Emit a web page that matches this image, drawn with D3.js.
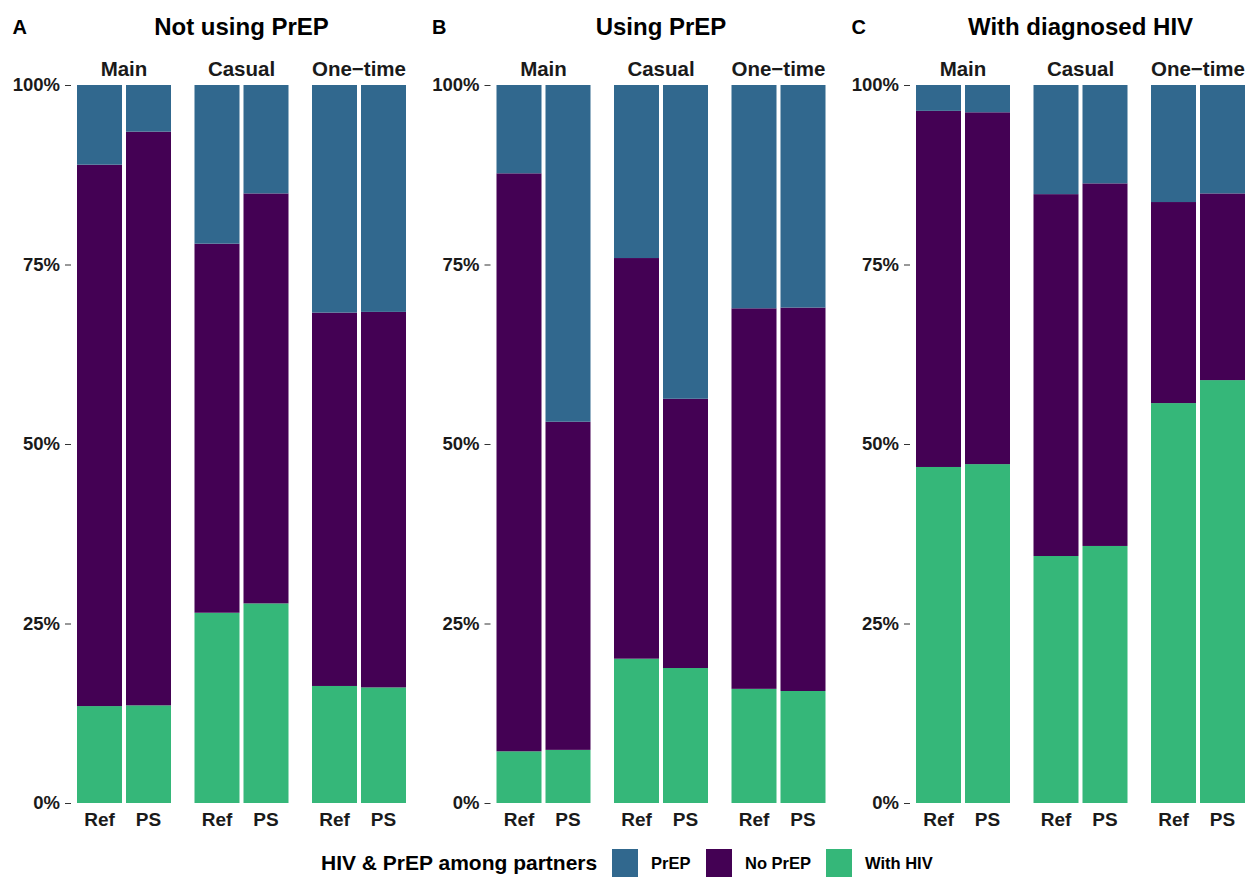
<!DOCTYPE html>
<html>
<head>
<meta charset="utf-8">
<script src="https://cdn.jsdelivr.net/npm/d3@7"></script>
<style>
  html, body { margin: 0; padding: 0; background: #fff; }
  svg { display: block; font-family: "Liberation Sans", Arial, sans-serif; }
</style>
</head>
<body>
<svg id="chart" width="1248" height="877"></svg>
<script>
// ---- Data ----
const panels = ["Not using PrEP", "Using PrEP", "With diagnosed HIV"];
const panelTags = ["A", "B", "C"];
const partnerTypes = ["Main", "Casual", "One\u2212time"];
const sources = ["Ref", "PS"];
const seriesNames = ["With HIV", "No PrEP", "PrEP"];
const legendOrder = ["PrEP", "No PrEP", "With HIV"];
const yTicks = [0, 0.25, 0.5, 0.75, 1];
const yTickLabels = ["0%", "25%", "50%", "75%", "100%"];

// values (%) ordered Main Ref, Main PS, Casual Ref, Casual PS, One-time Ref, One-time PS
const withHIV_A = [13.5, 13.6, 26.5, 27.8, 16.3, 16.1];
const noPrEP_A  = [75.4, 79.9, 51.4, 57.1, 52.0, 52.3];
const prep_A    = [11.1,  6.5, 22.1, 15.1, 31.7, 31.6];

const withHIV_B = [ 7.2,  7.4, 20.1, 18.8, 15.9, 15.6];
const noPrEP_B  = [80.5, 45.7, 55.8, 37.5, 53.0, 53.4];
const prep_B    = [12.3, 46.9, 24.1, 43.7, 31.1, 31.0];

const withHIV_C = [46.8, 47.2, 34.4, 35.8, 55.7, 58.9];
const noPrEP_C  = [49.6, 49.0, 50.4, 50.5, 28.0, 26.0];
const prep_C    = [ 3.6,  3.8, 15.2, 13.7, 16.3, 15.1];

const panelSeries = [
  [withHIV_A, noPrEP_A, prep_A],
  [withHIV_B, noPrEP_B, prep_B],
  [withHIV_C, noPrEP_C, prep_C]
];

const colors = { "PrEP": "#31688e", "No PrEP": "#440154", "With HIV": "#35b779" };

// ---- Layout ----
const svg = d3.select("#chart");
const panelStarts = [0, 419.5, 839];
const plotOffset = 77;      // plot left relative to panel
const plotWidth = 329;
const y = d3.scaleLinear().domain([0, 1]).range([803, 85]);
const fx = d3.scaleBand().domain(partnerTypes).range([0, plotWidth]).paddingInner(0.2).paddingOuter(0);
const bx = d3.scaleBand().domain(sources).range([0, fx.bandwidth()]).paddingInner(0.0816).paddingOuter(0);
const textCol = "#1a1a1a";

panels.forEach((title, pi) => {
  const g = svg.append("g").attr("transform", `translate(${panelStarts[pi]},0)`);
  // tag
  g.append("text").attr("x", 12.5).attr("y", 34)
    .attr("font-size", 20).attr("font-weight", "bold").attr("fill", "#000")
    .text(panelTags[pi]);
  // title
  g.append("text").attr("x", plotOffset + plotWidth / 2).attr("y", 35)
    .attr("text-anchor", "middle").attr("font-size", 24).attr("font-weight", "bold").attr("fill", "#000")
    .text(title);

  const plot = g.append("g").attr("transform", `translate(${plotOffset},0)`);

  // y axis
  const yAxis = d3.axisLeft(y).tickValues(yTicks)
    .tickFormat((d, i) => yTickLabels[i]).tickSize(6).tickPadding(5);
  const ya = plot.append("g").attr("transform", "translate(-6,0)").call(yAxis);
  ya.select(".domain").remove();
  ya.selectAll(".tick line").attr("stroke", "#333").attr("stroke-width", 1);
  ya.selectAll(".tick text").attr("font-size", 18.5).attr("font-weight", "bold")
    .attr("fill", textCol).attr("font-family", "Liberation Sans, Arial, sans-serif");

  // stacked data
  const rows = [];
  partnerTypes.forEach((pt, fi) => {
    sources.forEach((s, si) => {
      const idx = fi * 2 + si;
      const row = { pt, s };
      seriesNames.forEach((sn, k) => { row[sn] = panelSeries[pi][k][idx] / 100; });
      rows.push(row);
    });
  });
  const stacked = d3.stack().keys(seriesNames)(rows);

  partnerTypes.forEach((pt) => {
    const fg = plot.append("g").attr("transform", `translate(${fx(pt)},0)`);
    // strip label
    fg.append("text").attr("x", fx.bandwidth() / 2).attr("y", 76)
      .attr("text-anchor", "middle").attr("font-size", 20.5).attr("font-weight", "bold").attr("fill", textCol)
      .text(pt);
    // x labels
    sources.forEach(s => {
      fg.append("text").attr("x", bx(s) + bx.bandwidth() / 2).attr("y", 826)
        .attr("text-anchor", "middle").attr("font-size", 19).attr("font-weight", "bold").attr("fill", textCol)
        .text(s);
    });
    stacked.forEach(layer => {
      layer.filter(d => d.data.pt === pt).forEach(d => {
        fg.append("rect")
          .attr("x", bx(d.data.s))
          .attr("width", bx.bandwidth())
          .attr("y", y(d[1]))
          .attr("height", y(d[0]) - y(d[1]))
          .attr("fill", colors[layer.key]);
      });
    });
  });
});

// ---- Legend ----
const lg = svg.append("g");
lg.append("text").attr("x", 321).attr("y", 870)
  .attr("font-size", 21).attr("font-weight", "bold").attr("fill", "#000")
  .text("HIV & PrEP among partners");
const legendX = [612, 706, 826];
legendOrder.forEach((k, i) => {
  lg.append("rect").attr("x", legendX[i]).attr("y", 849).attr("width", 26).attr("height", 28)
    .attr("fill", colors[k]);
  lg.append("text").attr("x", legendX[i] + 39).attr("y", 869)
    .attr("font-size", 16.5).attr("font-weight", "bold").attr("fill", "#000")
    .text(k);
});
</script>
</body>
</html>
